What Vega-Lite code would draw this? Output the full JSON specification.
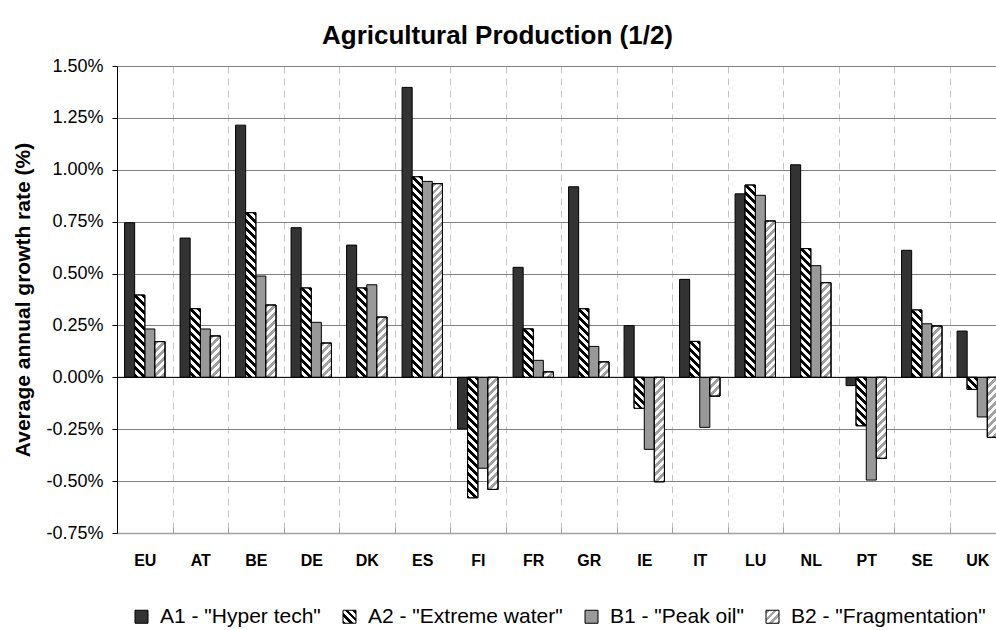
{
  "$schema": "https://vega.github.io/schema/vega-lite/v6.json",
  "width": 879,
  "height": 467,
  "autosize": {"type": "none"},
  "padding": {"left": 117, "top": 66, "right": 0, "bottom": 97},
  "background": "white",
  "params": [
    {"name": "hatch", "value": [
      {"offset":0,"color":"#000"},{"offset":0.0175,"color":"#000"},{"offset":0.0175,"color":"#fff"},{"offset":0.035,"color":"#fff"},
      {"offset":0.035,"color":"#000"},{"offset":0.0525,"color":"#000"},{"offset":0.0525,"color":"#fff"},{"offset":0.07,"color":"#fff"},
      {"offset":0.07,"color":"#000"},{"offset":0.0875,"color":"#000"},{"offset":0.0875,"color":"#fff"},{"offset":0.105,"color":"#fff"},
      {"offset":0.105,"color":"#000"},{"offset":0.1225,"color":"#000"},{"offset":0.1225,"color":"#fff"},{"offset":0.14,"color":"#fff"},
      {"offset":0.14,"color":"#000"},{"offset":0.1575,"color":"#000"},{"offset":0.1575,"color":"#fff"},{"offset":0.175,"color":"#fff"},
      {"offset":0.175,"color":"#000"},{"offset":0.1925,"color":"#000"},{"offset":0.1925,"color":"#fff"},{"offset":0.21,"color":"#fff"},
      {"offset":0.21,"color":"#000"},{"offset":0.2275,"color":"#000"},{"offset":0.2275,"color":"#fff"},{"offset":0.245,"color":"#fff"},
      {"offset":0.245,"color":"#000"},{"offset":0.2625,"color":"#000"},{"offset":0.2625,"color":"#fff"},{"offset":0.28,"color":"#fff"},
      {"offset":0.28,"color":"#000"},{"offset":0.2975,"color":"#000"},{"offset":0.2975,"color":"#fff"},{"offset":0.315,"color":"#fff"},
      {"offset":0.315,"color":"#000"},{"offset":0.3325,"color":"#000"},{"offset":0.3325,"color":"#fff"},{"offset":0.35,"color":"#fff"},
      {"offset":0.35,"color":"#000"},{"offset":0.3675,"color":"#000"},{"offset":0.3675,"color":"#fff"},{"offset":0.385,"color":"#fff"},
      {"offset":0.385,"color":"#000"},{"offset":0.4025,"color":"#000"},{"offset":0.4025,"color":"#fff"},{"offset":0.42,"color":"#fff"},
      {"offset":0.42,"color":"#000"},{"offset":0.4375,"color":"#000"},{"offset":0.4375,"color":"#fff"},{"offset":0.455,"color":"#fff"},
      {"offset":0.455,"color":"#000"},{"offset":0.4725,"color":"#000"},{"offset":0.4725,"color":"#fff"},{"offset":0.49,"color":"#fff"},
      {"offset":0.49,"color":"#000"},{"offset":0.5075,"color":"#000"},{"offset":0.5075,"color":"#fff"},{"offset":0.525,"color":"#fff"},
      {"offset":0.525,"color":"#000"},{"offset":0.5425,"color":"#000"},{"offset":0.5425,"color":"#fff"},{"offset":0.56,"color":"#fff"},
      {"offset":0.56,"color":"#000"},{"offset":0.5775,"color":"#000"},{"offset":0.5775,"color":"#fff"},{"offset":0.595,"color":"#fff"},
      {"offset":0.595,"color":"#000"},{"offset":0.6125,"color":"#000"},{"offset":0.6125,"color":"#fff"},{"offset":0.63,"color":"#fff"},
      {"offset":0.63,"color":"#000"},{"offset":0.6475,"color":"#000"},{"offset":0.6475,"color":"#fff"},{"offset":0.665,"color":"#fff"},
      {"offset":0.665,"color":"#000"},{"offset":0.6825,"color":"#000"},{"offset":0.6825,"color":"#fff"},{"offset":0.7,"color":"#fff"},
      {"offset":0.7,"color":"#000"},{"offset":0.7175,"color":"#000"},{"offset":0.7175,"color":"#fff"},{"offset":0.735,"color":"#fff"},
      {"offset":0.735,"color":"#000"},{"offset":0.7525,"color":"#000"},{"offset":0.7525,"color":"#fff"},{"offset":0.77,"color":"#fff"},
      {"offset":0.77,"color":"#000"},{"offset":0.7875,"color":"#000"},{"offset":0.7875,"color":"#fff"},{"offset":0.805,"color":"#fff"},
      {"offset":0.805,"color":"#000"},{"offset":0.8225,"color":"#000"},{"offset":0.8225,"color":"#fff"},{"offset":0.84,"color":"#fff"},
      {"offset":0.84,"color":"#000"},{"offset":0.8575,"color":"#000"},{"offset":0.8575,"color":"#fff"},{"offset":0.875,"color":"#fff"},
      {"offset":0.875,"color":"#000"},{"offset":0.8925,"color":"#000"},{"offset":0.8925,"color":"#fff"},{"offset":0.91,"color":"#fff"},
      {"offset":0.91,"color":"#000"},{"offset":0.9275,"color":"#000"},{"offset":0.9275,"color":"#fff"},{"offset":0.945,"color":"#fff"},
      {"offset":0.945,"color":"#000"},{"offset":0.9625,"color":"#000"},{"offset":0.9625,"color":"#fff"},{"offset":0.98,"color":"#fff"},
      {"offset":0.98,"color":"#000"},{"offset":0.9975,"color":"#000"},{"offset":0.9975,"color":"#fff"},{"offset":1,"color":"#fff"}
    ]},
    {"name": "hatchL", "value": [
      {"offset":0,"color":"#000"},{"offset":0.15,"color":"#000"},{"offset":0.15,"color":"#fff"},{"offset":0.3,"color":"#fff"},
      {"offset":0.3,"color":"#000"},{"offset":0.45,"color":"#000"},{"offset":0.45,"color":"#fff"},{"offset":0.6,"color":"#fff"},
      {"offset":0.6,"color":"#000"},{"offset":0.75,"color":"#000"},{"offset":0.75,"color":"#fff"},{"offset":0.9,"color":"#fff"},
      {"offset":0.9,"color":"#000"},{"offset":1,"color":"#000"}
    ]},
    {"name": "hatchG", "value": [
      {"offset":0,"color":"#a6a6a6"},{"offset":0.15,"color":"#a6a6a6"},{"offset":0.15,"color":"#fff"},{"offset":0.3,"color":"#fff"},
      {"offset":0.3,"color":"#a6a6a6"},{"offset":0.45,"color":"#a6a6a6"},{"offset":0.45,"color":"#fff"},{"offset":0.6,"color":"#fff"},
      {"offset":0.6,"color":"#a6a6a6"},{"offset":0.75,"color":"#a6a6a6"},{"offset":0.75,"color":"#fff"},{"offset":0.9,"color":"#fff"},
      {"offset":0.9,"color":"#a6a6a6"},{"offset":1,"color":"#a6a6a6"}
    ]}
  ],
  "title": {
    "text": "Agricultural Production (1/2)",
    "font": "Liberation Sans, Arial, sans-serif",
    "fontSize": 26,
    "fontWeight": "bold",
    "color": "black",
    "anchor": "middle",
    "frame": "group",
    "dx": -59,
    "offset": 8
  },
  "config": {
    "view": {"stroke": null},
    "font": "Liberation Sans, Arial, sans-serif"
  },
  "data": {"values": [
    {"country":"EU","scenario":"A1 - \"Hyper tech\"","value":0.745},
    {"country":"EU","scenario":"A2 - \"Extreme water\"","value":0.396},
    {"country":"EU","scenario":"B1 - \"Peak oil\"","value":0.233},
    {"country":"EU","scenario":"B2 - \"Fragmentation\"","value":0.172},
    {"country":"AT","scenario":"A1 - \"Hyper tech\"","value":0.671},
    {"country":"AT","scenario":"A2 - \"Extreme water\"","value":0.33},
    {"country":"AT","scenario":"B1 - \"Peak oil\"","value":0.233},
    {"country":"AT","scenario":"B2 - \"Fragmentation\"","value":0.199},
    {"country":"BE","scenario":"A1 - \"Hyper tech\"","value":1.215},
    {"country":"BE","scenario":"A2 - \"Extreme water\"","value":0.793},
    {"country":"BE","scenario":"B1 - \"Peak oil\"","value":0.488},
    {"country":"BE","scenario":"B2 - \"Fragmentation\"","value":0.348},
    {"country":"DE","scenario":"A1 - \"Hyper tech\"","value":0.721},
    {"country":"DE","scenario":"A2 - \"Extreme water\"","value":0.43},
    {"country":"DE","scenario":"B1 - \"Peak oil\"","value":0.265},
    {"country":"DE","scenario":"B2 - \"Fragmentation\"","value":0.165},
    {"country":"DK","scenario":"A1 - \"Hyper tech\"","value":0.637},
    {"country":"DK","scenario":"A2 - \"Extreme water\"","value":0.43},
    {"country":"DK","scenario":"B1 - \"Peak oil\"","value":0.446},
    {"country":"DK","scenario":"B2 - \"Fragmentation\"","value":0.29},
    {"country":"ES","scenario":"A1 - \"Hyper tech\"","value":1.397},
    {"country":"ES","scenario":"A2 - \"Extreme water\"","value":0.966},
    {"country":"ES","scenario":"B1 - \"Peak oil\"","value":0.944},
    {"country":"ES","scenario":"B2 - \"Fragmentation\"","value":0.933},
    {"country":"FI","scenario":"A1 - \"Hyper tech\"","value":-0.249},
    {"country":"FI","scenario":"A2 - \"Extreme water\"","value":-0.58},
    {"country":"FI","scenario":"B1 - \"Peak oil\"","value":-0.438},
    {"country":"FI","scenario":"B2 - \"Fragmentation\"","value":-0.54},
    {"country":"FR","scenario":"A1 - \"Hyper tech\"","value":0.53},
    {"country":"FR","scenario":"A2 - \"Extreme water\"","value":0.233},
    {"country":"FR","scenario":"B1 - \"Peak oil\"","value":0.082},
    {"country":"FR","scenario":"B2 - \"Fragmentation\"","value":0.026},
    {"country":"GR","scenario":"A1 - \"Hyper tech\"","value":0.918},
    {"country":"GR","scenario":"A2 - \"Extreme water\"","value":0.33},
    {"country":"GR","scenario":"B1 - \"Peak oil\"","value":0.149},
    {"country":"GR","scenario":"B2 - \"Fragmentation\"","value":0.074},
    {"country":"IE","scenario":"A1 - \"Hyper tech\"","value":0.249},
    {"country":"IE","scenario":"A2 - \"Extreme water\"","value":-0.149},
    {"country":"IE","scenario":"B1 - \"Peak oil\"","value":-0.347},
    {"country":"IE","scenario":"B2 - \"Fragmentation\"","value":-0.503},
    {"country":"IT","scenario":"A1 - \"Hyper tech\"","value":0.472},
    {"country":"IT","scenario":"A2 - \"Extreme water\"","value":0.173},
    {"country":"IT","scenario":"B1 - \"Peak oil\"","value":-0.241},
    {"country":"IT","scenario":"B2 - \"Fragmentation\"","value":-0.09},
    {"country":"LU","scenario":"A1 - \"Hyper tech\"","value":0.884},
    {"country":"LU","scenario":"A2 - \"Extreme water\"","value":0.926},
    {"country":"LU","scenario":"B1 - \"Peak oil\"","value":0.877},
    {"country":"LU","scenario":"B2 - \"Fragmentation\"","value":0.753},
    {"country":"NL","scenario":"A1 - \"Hyper tech\"","value":1.024},
    {"country":"NL","scenario":"A2 - \"Extreme water\"","value":0.62},
    {"country":"NL","scenario":"B1 - \"Peak oil\"","value":0.538},
    {"country":"NL","scenario":"B2 - \"Fragmentation\"","value":0.456},
    {"country":"PT","scenario":"A1 - \"Hyper tech\"","value":-0.04},
    {"country":"PT","scenario":"A2 - \"Extreme water\"","value":-0.233},
    {"country":"PT","scenario":"B1 - \"Peak oil\"","value":-0.495},
    {"country":"PT","scenario":"B2 - \"Fragmentation\"","value":-0.39},
    {"country":"SE","scenario":"A1 - \"Hyper tech\"","value":0.612},
    {"country":"SE","scenario":"A2 - \"Extreme water\"","value":0.324},
    {"country":"SE","scenario":"B1 - \"Peak oil\"","value":0.258},
    {"country":"SE","scenario":"B2 - \"Fragmentation\"","value":0.247},
    {"country":"UK","scenario":"A1 - \"Hyper tech\"","value":0.223},
    {"country":"UK","scenario":"A2 - \"Extreme water\"","value":-0.058},
    {"country":"UK","scenario":"B1 - \"Peak oil\"","value":-0.191},
    {"country":"UK","scenario":"B2 - \"Fragmentation\"","value":-0.289}
  ]},
  "layer": [
    {
      "mark": {"type": "bar", "stroke": "black", "strokeWidth": 1},
      "encoding": {
        "x": {
          "field": "country", "type": "nominal",
          "scale": {"domain": ["EU","AT","BE","DE","DK","ES","FI","FR","GR","IE","IT","LU","NL","PT","SE","UK"], "range": [0, 888], "paddingInner": 0, "paddingOuter": 0},
          "axis": {
            "title": null, "tickBand": "extent", "grid": true, "gridDash": [7, 5], "gridColor": "#c4c4c4", "gridWidth": 1,
            "domainColor": "#a0a0a0", "domainWidth": 1.5, "tickColor": "#a0a0a0", "tickSize": -6,
            "labelFont": "Liberation Sans, Arial, sans-serif", "labelFontSize": 16, "labelFontWeight": "bold", "labelColor": "black",
            "labelPadding": 25, "labelAngle": 0
          }
        },
        "xOffset": {
          "field": "scenario", "type": "nominal",
          "scale": {"domain": ["A1 - \"Hyper tech\"","A2 - \"Extreme water\"","B1 - \"Peak oil\"","B2 - \"Fragmentation\""], "paddingInner": 0, "paddingOuter": 0.75}
        },
        "y": {
          "field": "value", "type": "quantitative",
          "scale": {"domain": [-0.75, 1.5], "nice": false, "zero": false},
          "axis": {
            "title": "Average annual growth rate (%)",
            "titleFont": "Liberation Sans, Arial, sans-serif", "titleFontSize": 21, "titleFontWeight": "bold", "titleColor": "black", "titlePadding": 12,
            "values": [-0.75, -0.5, -0.25, 0, 0.25, 0.5, 0.75, 1, 1.25, 1.5],
            "labelExpr": "(datum.value < 0 ? '-' : '') + format(abs(datum.value), '.2f') + '%'",
            "labelFont": "Liberation Sans, Arial, sans-serif", "labelFontSize": 18, "labelColor": "black", "labelPadding": 9,
            "tickSize": 5, "tickColor": "black", "domainColor": "black",
            "grid": true, "gridColor": "#808080", "gridWidth": 1
          }
        },
        "color": {
          "field": "scenario", "type": "nominal",
          "scale": {
            "domain": ["A1 - \"Hyper tech\"","A2 - \"Extreme water\"","B1 - \"Peak oil\"","B2 - \"Fragmentation\""],
            "range": ["#333333", {"expr": "{gradient:'linear',x1:1,y1:0,x2:0,y2:1,stops:hatchL}"}, "#999999", {"expr": "{gradient:'linear',x1:0,y1:0,x2:1,y2:1,stops:hatchG}"}]
          },
          "legend": {
            "title": null, "orient": "none", "legendX": 14, "legendY": 540, "direction": "horizontal",
            "symbolType": "square", "symbolSize": 169, "symbolStrokeColor": "black", "symbolStrokeWidth": 1,
            "labelFont": "Liberation Sans, Arial, sans-serif", "labelFontSize": 21, "labelColor": "black", "labelOffset": 8,
            "columnPadding": 18, "labelLimit": 400
          }
        }
      }
    },
    {
      "transform": [{"filter": "indexof(datum.scenario,'A2')==0 || indexof(datum.scenario,'B2')==0"}],
      "mark": {"type": "bar", "fill": "white", "stroke": "black", "strokeWidth": 1},
      "encoding": {
        "x": {"field": "country", "type": "nominal"},
        "xOffset": {"field": "scenario", "type": "nominal"},
        "y": {"field": "value", "type": "quantitative"}
      }
    },
    {
      "transform": [{"filter": "indexof(datum.scenario,'A2')==0 || indexof(datum.scenario,'B2')==0"}],
      "mark": {
        "type": "bar", "stroke": "black", "strokeWidth": 1,
        "fill": {"expr": "indexof(datum.scenario,'B2')==0 ? {gradient:'linear',x1:0,y1:0,x2:bandwidth('xOffset')*228/(pow(bandwidth('xOffset'),2)+pow(scale('y',datum.value)-scale('y',0),2)),y2:abs(scale('y',datum.value)-scale('y',0))*228/(pow(bandwidth('xOffset'),2)+pow(scale('y',datum.value)-scale('y',0),2)),stops:hatch} : {gradient:'linear',x1:1,y1:0,x2:1-bandwidth('xOffset')*228/(pow(bandwidth('xOffset'),2)+pow(scale('y',datum.value)-scale('y',0),2)),y2:abs(scale('y',datum.value)-scale('y',0))*228/(pow(bandwidth('xOffset'),2)+pow(scale('y',datum.value)-scale('y',0),2)),stops:hatch}"},
        "fillOpacity": {"expr": "indexof(datum.scenario,'B2')==0 ? 0.37 : 1"}
      },
      "encoding": {
        "x": {"field": "country", "type": "nominal"},
        "xOffset": {"field": "scenario", "type": "nominal"},
        "y": {"field": "value", "type": "quantitative"}
      }
    },
    {
      "data": {"values": [{"value": 0}]},
      "mark": {"type": "rule", "color": "black", "strokeWidth": 1},
      "encoding": {"y": {"field": "value", "type": "quantitative"}}
    }
  ]
}
